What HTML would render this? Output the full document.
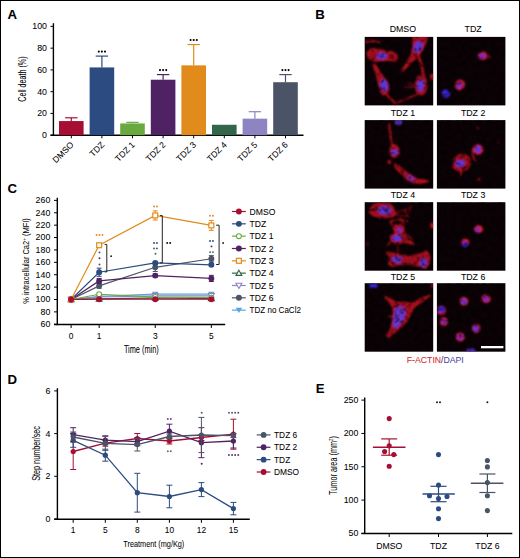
<!DOCTYPE html>
<html><head><meta charset="utf-8"><style>
html,body{margin:0;padding:0;background:#fff;}
svg{display:block;font-family:"Liberation Sans", sans-serif;}
</style></head><body>
<svg width="520" height="558" viewBox="0 0 520 558">
<defs>
<clipPath id="clipimg"><rect width="68.5" height="68.5"/></clipPath>
<filter id="soft" x="-10%" y="-10%" width="120%" height="120%"><feGaussianBlur stdDeviation="0.9"/></filter>
<filter id="tex00" x="0" y="0" width="100%" height="100%"><feTurbulence type="fractalNoise" baseFrequency="0.2" numOctaves="2" seed="1"/><feColorMatrix type="matrix" values="0 0 0 0 0  0 0 0 0 0  0 0 0 0 0  -2.6 0 0 0 1.45"/></filter><filter id="tex01" x="0" y="0" width="100%" height="100%"><feTurbulence type="fractalNoise" baseFrequency="0.2" numOctaves="2" seed="2"/><feColorMatrix type="matrix" values="0 0 0 0 0  0 0 0 0 0  0 0 0 0 0  -2.6 0 0 0 1.45"/></filter><filter id="tex10" x="0" y="0" width="100%" height="100%"><feTurbulence type="fractalNoise" baseFrequency="0.2" numOctaves="2" seed="3"/><feColorMatrix type="matrix" values="0 0 0 0 0  0 0 0 0 0  0 0 0 0 0  -2.6 0 0 0 1.45"/></filter><filter id="tex11" x="0" y="0" width="100%" height="100%"><feTurbulence type="fractalNoise" baseFrequency="0.2" numOctaves="2" seed="4"/><feColorMatrix type="matrix" values="0 0 0 0 0  0 0 0 0 0  0 0 0 0 0  -2.6 0 0 0 1.45"/></filter><filter id="tex20" x="0" y="0" width="100%" height="100%"><feTurbulence type="fractalNoise" baseFrequency="0.2" numOctaves="2" seed="5"/><feColorMatrix type="matrix" values="0 0 0 0 0  0 0 0 0 0  0 0 0 0 0  -2.6 0 0 0 1.45"/></filter><filter id="tex21" x="0" y="0" width="100%" height="100%"><feTurbulence type="fractalNoise" baseFrequency="0.2" numOctaves="2" seed="6"/><feColorMatrix type="matrix" values="0 0 0 0 0  0 0 0 0 0  0 0 0 0 0  -2.6 0 0 0 1.45"/></filter><filter id="tex30" x="0" y="0" width="100%" height="100%"><feTurbulence type="fractalNoise" baseFrequency="0.2" numOctaves="2" seed="7"/><feColorMatrix type="matrix" values="0 0 0 0 0  0 0 0 0 0  0 0 0 0 0  -2.6 0 0 0 1.45"/></filter><filter id="tex31" x="0" y="0" width="100%" height="100%"><feTurbulence type="fractalNoise" baseFrequency="0.2" numOctaves="2" seed="8"/><feColorMatrix type="matrix" values="0 0 0 0 0  0 0 0 0 0  0 0 0 0 0  -2.6 0 0 0 1.45"/></filter>
</defs>
<rect x="0.5" y="0.5" width="519" height="557" fill="#fff" stroke="#000" stroke-width="1"/>
<text x="7.60" y="18.90" font-size="13.2" text-anchor="start" fill="#000" stroke="#000" stroke-width="0.05" font-weight="bold" >A</text>
<line x1="53.40" y1="23.20" x2="53.40" y2="135.90" stroke="#000" stroke-width="1.4"/>
<line x1="50.50" y1="135.20" x2="53.50" y2="135.20" stroke="#000" stroke-width="1"/>
<text x="47.00" y="138.10" font-size="8.8" text-anchor="end" fill="#000" stroke="#000" stroke-width="0.05" >0</text>
<line x1="50.50" y1="113.44" x2="53.50" y2="113.44" stroke="#000" stroke-width="1"/>
<text x="47.00" y="116.34" font-size="8.8" text-anchor="end" fill="#000" stroke="#000" stroke-width="0.05" >20</text>
<line x1="50.50" y1="91.68" x2="53.50" y2="91.68" stroke="#000" stroke-width="1"/>
<text x="47.00" y="94.58" font-size="8.8" text-anchor="end" fill="#000" stroke="#000" stroke-width="0.05" >40</text>
<line x1="50.50" y1="69.92" x2="53.50" y2="69.92" stroke="#000" stroke-width="1"/>
<text x="47.00" y="72.82" font-size="8.8" text-anchor="end" fill="#000" stroke="#000" stroke-width="0.05" >60</text>
<line x1="50.50" y1="48.16" x2="53.50" y2="48.16" stroke="#000" stroke-width="1"/>
<text x="47.00" y="51.06" font-size="8.8" text-anchor="end" fill="#000" stroke="#000" stroke-width="0.05" >80</text>
<line x1="50.50" y1="26.40" x2="53.50" y2="26.40" stroke="#000" stroke-width="1"/>
<text x="47.00" y="29.30" font-size="8.8" text-anchor="end" fill="#000" stroke="#000" stroke-width="0.05" >100</text>
<text x="25.80" y="79.05" font-size="10.2" text-anchor="middle" fill="#000" stroke="#000" stroke-width="0.05" textLength="45.3" lengthAdjust="spacingAndGlyphs" transform="rotate(-90 25.80 79.05)" >Cell death (%)</text>
<line x1="50.50" y1="135.20" x2="303.50" y2="135.20" stroke="#000" stroke-width="1.5"/>
<line x1="71.30" y1="117.79" x2="71.30" y2="121.06" stroke="#a60f33" stroke-width="1.2"/>
<line x1="65.10" y1="117.79" x2="77.50" y2="117.79" stroke="#a60f33" stroke-width="1.2"/>
<rect x="59.00" y="121.06" width="24.6" height="14.14" fill="#a60f33"/>
<line x1="71.30" y1="135.30" x2="71.30" y2="138.30" stroke="#000" stroke-width="1"/>
<text x="74.30" y="145.30" font-size="8.6" text-anchor="end" fill="#000" stroke="#000" stroke-width="0.05" transform="rotate(-45 74.30 145.30)" >DMSO</text>
<line x1="101.90" y1="56.10" x2="101.90" y2="67.42" stroke="#2c4b80" stroke-width="1.2"/>
<line x1="95.70" y1="56.10" x2="108.10" y2="56.10" stroke="#2c4b80" stroke-width="1.2"/>
<rect x="89.60" y="67.42" width="24.6" height="67.78" fill="#2c4b80"/>
<line x1="101.90" y1="135.30" x2="101.90" y2="138.30" stroke="#000" stroke-width="1"/>
<text x="104.90" y="145.30" font-size="8.6" text-anchor="end" fill="#000" stroke="#000" stroke-width="0.05" transform="rotate(-45 104.90 145.30)" >TDZ</text>
<circle cx="98.80" cy="51.60" r="1.05" fill="#000"/>
<circle cx="101.90" cy="51.60" r="1.05" fill="#000"/>
<circle cx="105.00" cy="51.60" r="1.05" fill="#000"/>
<line x1="132.50" y1="122.36" x2="132.50" y2="123.45" stroke="#6aa940" stroke-width="1.2"/>
<line x1="126.30" y1="122.36" x2="138.70" y2="122.36" stroke="#6aa940" stroke-width="1.2"/>
<rect x="120.20" y="123.45" width="24.6" height="11.75" fill="#6aa940"/>
<line x1="132.50" y1="135.30" x2="132.50" y2="138.30" stroke="#000" stroke-width="1"/>
<text x="135.50" y="145.30" font-size="8.6" text-anchor="end" fill="#000" stroke="#000" stroke-width="0.05" transform="rotate(-45 135.50 145.30)" >TDZ 1</text>
<line x1="163.10" y1="74.60" x2="163.10" y2="79.71" stroke="#4f2363" stroke-width="1.2"/>
<line x1="156.90" y1="74.60" x2="169.30" y2="74.60" stroke="#4f2363" stroke-width="1.2"/>
<rect x="150.80" y="79.71" width="24.6" height="55.49" fill="#4f2363"/>
<line x1="163.10" y1="135.30" x2="163.10" y2="138.30" stroke="#000" stroke-width="1"/>
<text x="166.10" y="145.30" font-size="8.6" text-anchor="end" fill="#000" stroke="#000" stroke-width="0.05" transform="rotate(-45 166.10 145.30)" >TDZ 2</text>
<circle cx="160.00" cy="70.10" r="1.05" fill="#000"/>
<circle cx="163.10" cy="70.10" r="1.05" fill="#000"/>
<circle cx="166.20" cy="70.10" r="1.05" fill="#000"/>
<line x1="193.70" y1="44.57" x2="193.70" y2="65.35" stroke="#e08b1b" stroke-width="1.2"/>
<line x1="187.50" y1="44.57" x2="199.90" y2="44.57" stroke="#e08b1b" stroke-width="1.2"/>
<rect x="181.40" y="65.35" width="24.6" height="69.85" fill="#e08b1b"/>
<line x1="193.70" y1="135.30" x2="193.70" y2="138.30" stroke="#000" stroke-width="1"/>
<text x="196.70" y="145.30" font-size="8.6" text-anchor="end" fill="#000" stroke="#000" stroke-width="0.05" transform="rotate(-45 196.70 145.30)" >TDZ 3</text>
<circle cx="190.60" cy="40.07" r="1.05" fill="#000"/>
<circle cx="193.70" cy="40.07" r="1.05" fill="#000"/>
<circle cx="196.80" cy="40.07" r="1.05" fill="#000"/>
<rect x="212.00" y="124.76" width="24.6" height="10.44" fill="#32654a"/>
<line x1="224.30" y1="135.30" x2="224.30" y2="138.30" stroke="#000" stroke-width="1"/>
<text x="227.30" y="145.30" font-size="8.6" text-anchor="end" fill="#000" stroke="#000" stroke-width="0.05" transform="rotate(-45 227.30 145.30)" >TDZ 4</text>
<line x1="254.90" y1="111.70" x2="254.90" y2="118.66" stroke="#8d84c2" stroke-width="1.2"/>
<line x1="248.70" y1="111.70" x2="261.10" y2="111.70" stroke="#8d84c2" stroke-width="1.2"/>
<rect x="242.60" y="118.66" width="24.6" height="16.54" fill="#8d84c2"/>
<line x1="254.90" y1="135.30" x2="254.90" y2="138.30" stroke="#000" stroke-width="1"/>
<text x="257.90" y="145.30" font-size="8.6" text-anchor="end" fill="#000" stroke="#000" stroke-width="0.05" transform="rotate(-45 257.90 145.30)" >TDZ 5</text>
<line x1="285.50" y1="74.60" x2="285.50" y2="82.21" stroke="#4b5366" stroke-width="1.2"/>
<line x1="279.30" y1="74.60" x2="291.70" y2="74.60" stroke="#4b5366" stroke-width="1.2"/>
<rect x="273.20" y="82.21" width="24.6" height="52.99" fill="#4b5366"/>
<line x1="285.50" y1="135.30" x2="285.50" y2="138.30" stroke="#000" stroke-width="1"/>
<text x="288.50" y="145.30" font-size="8.6" text-anchor="end" fill="#000" stroke="#000" stroke-width="0.05" transform="rotate(-45 288.50 145.30)" >TDZ 6</text>
<circle cx="282.40" cy="70.10" r="1.05" fill="#000"/>
<circle cx="285.50" cy="70.10" r="1.05" fill="#000"/>
<circle cx="288.60" cy="70.10" r="1.05" fill="#000"/>
<text x="315.20" y="18.90" font-size="13.2" text-anchor="start" fill="#000" stroke="#000" stroke-width="0.05" font-weight="bold" >B</text>
<text x="402.90" y="32.20" font-size="8.8" text-anchor="middle" fill="#000" stroke="#000" stroke-width="0.05" >DMSO</text>
<text x="473.10" y="32.20" font-size="8.8" text-anchor="middle" fill="#000" stroke="#000" stroke-width="0.05" >TDZ</text>
<text x="402.90" y="116.20" font-size="8.8" text-anchor="middle" fill="#000" stroke="#000" stroke-width="0.05" >TDZ 1</text>
<text x="473.10" y="116.20" font-size="8.8" text-anchor="middle" fill="#000" stroke="#000" stroke-width="0.05" >TDZ 2</text>
<text x="402.90" y="197.90" font-size="8.8" text-anchor="middle" fill="#000" stroke="#000" stroke-width="0.05" >TDZ 4</text>
<text x="473.10" y="197.90" font-size="8.8" text-anchor="middle" fill="#000" stroke="#000" stroke-width="0.05" >TDZ 3</text>
<text x="402.90" y="279.90" font-size="8.8" text-anchor="middle" fill="#000" stroke="#000" stroke-width="0.05" >TDZ 5</text>
<text x="473.10" y="279.90" font-size="8.8" text-anchor="middle" fill="#000" stroke="#000" stroke-width="0.05" >TDZ 6</text>
<g transform="translate(364.70 36.90)"><rect width="68.5" height="68.5" fill="#0b0206"/><g clip-path="url(#clipimg)" filter="url(#soft)"><path d="M48.5 0 L62.5 0 L60.5 7 L57.5 13 L54 18.5 L49 23 L44 28 L39.5 32.5 L36.5 35 L39 30.5 L43.5 24 L47 17 L48 9 Z" fill="#9c0e1a" stroke="#d81a20" stroke-width="1.1" stroke-linejoin="round" opacity="1"/><path d="M53 17 L56 26 L58 33 L59 40" fill="none" stroke="#d0141c" stroke-width="2.2" stroke-linecap="round" stroke-linejoin="round" opacity="1"/><ellipse cx="53.4" cy="10" rx="4.2" ry="6" fill="#6036d0" transform="rotate(25 53.4 10)"/><path d="M3 14 L8 12 L15 13 L22 15 L27 15 L31 17 L33 21 L31 24 L25 23 L18 24 L10 24 L5 22 L3 18 Z" fill="#9c0e1a" stroke="#d81a20" stroke-width="1.1" stroke-linejoin="round" opacity="1"/><ellipse cx="17" cy="19.2" rx="5.3" ry="3.5" fill="#6036d0" transform="rotate(0 17 19.2)"/><path d="M0 5 L8 4 L15 5" fill="none" stroke="#d0141c" stroke-width="1.5" stroke-linecap="round" stroke-linejoin="round" opacity="1"/><path d="M8 27 L11 28 L15 35 L19 41 L23 46 L24 52 L22 57 L19 58 L16 55 L14 47 L12 38 Z" fill="#9c0e1a" stroke="#d81a20" stroke-width="1.1" stroke-linejoin="round" opacity="1"/><ellipse cx="19.3" cy="48.3" rx="4" ry="6" fill="#6036d0" transform="rotate(-12 19.3 48.3)"/><path d="M21 57 L26 62 L31 67" fill="none" stroke="#d0141c" stroke-width="1.6" stroke-linecap="round" stroke-linejoin="round" opacity="1"/><path d="M53 40 L58 38 L61 42 L62 50 L60 56 L56 58 L52 55 L51 47 Z" fill="#9c0e1a" stroke="#d81a20" stroke-width="1.1" stroke-linejoin="round" opacity="1"/><ellipse cx="55.8" cy="48.5" rx="3.6" ry="6" fill="#6036d0" transform="rotate(8 55.8 48.5)"/><path d="M32 66 L44 61 L55 56" fill="none" stroke="#d0141c" stroke-width="1.3" stroke-linecap="round" stroke-linejoin="round" opacity="1"/><path d="M40 50 L51 50" fill="none" stroke="#d0141c" stroke-width="0.9" stroke-linecap="round" stroke-linejoin="round" opacity="1"/><path d="M42 46 L51 48" fill="none" stroke="#d0141c" stroke-width="0.7" stroke-linecap="round" stroke-linejoin="round" opacity="1"/><ellipse cx="67.5" cy="40" rx="2.2" ry="3" fill="#d0141c" opacity="1" transform="rotate(0 67.5 40)"/></g><rect x="0.7" y="0.7" width="67.1" height="67.1" filter="url(#tex00)" opacity="0.55"/></g>
<g transform="translate(436.90 36.90)"><rect width="68.5" height="68.5" fill="#0b0206"/><g clip-path="url(#clipimg)" filter="url(#soft)"><ellipse cx="46" cy="18.9" rx="5.2" ry="3.9" fill="#e01820" opacity="1" transform="rotate(-10 46 18.9)"/><ellipse cx="45.5" cy="19" rx="3.6" ry="2.6" fill="#7c2ab8" transform="rotate(-10 45.5 19)"/><ellipse cx="52" cy="20" rx="2.5" ry="2" fill="#901018" opacity="0.6" transform="rotate(0 52 20)"/><ellipse cx="23" cy="48" rx="4.9" ry="5.3" fill="#e81a20" opacity="1" transform="rotate(20 23 48)"/><ellipse cx="22.6" cy="48.4" rx="3" ry="3.6" fill="#7c2ab8" transform="rotate(20 22.6 48.4)"/><ellipse cx="9" cy="56.6" rx="3.9" ry="4.3" fill="#3826d8" transform="rotate(-20 9 56.6)"/></g><rect x="0.7" y="0.7" width="67.1" height="67.1" filter="url(#tex01)" opacity="0.55"/></g>
<g transform="translate(364.70 120.10)"><rect width="68.5" height="68.5" fill="#0b0206"/><g clip-path="url(#clipimg)" filter="url(#soft)"><ellipse cx="33.7" cy="1.8" rx="3.6" ry="3" fill="#6036d0" transform="rotate(0 33.7 1.8)"/><path d="M24.5 4 L25.5 12 L26.5 20 L28.5 27" fill="none" stroke="#d0141c" stroke-width="1.8" stroke-linecap="round" stroke-linejoin="round" opacity="1"/><path d="M27 25 L31 25 L34 29 L34 34 L31 37 L27 36 L25 32 Z" fill="#9c0e1a" stroke="#d81a20" stroke-width="1.1" stroke-linejoin="round" opacity="1"/><ellipse cx="30" cy="32" rx="3.2" ry="3.2" fill="#6036d0" transform="rotate(0 30 32)"/><ellipse cx="24.5" cy="42" rx="1.6" ry="2.2" fill="#d0141c" opacity="1" transform="rotate(0 24.5 42)"/><path d="M30 44 L34 46 L40 51 L46 55 L52 59 L60 60 L64 61 L56 63 L48 62 L42 59 L36 53 L31 48 Z" fill="#9c0e1a" stroke="#d81a20" stroke-width="1.1" stroke-linejoin="round" opacity="1"/><ellipse cx="46" cy="57.8" rx="4.5" ry="1.9" fill="#7c2ab8" transform="rotate(33 46 57.8)"/></g><rect x="0.7" y="0.7" width="67.1" height="67.1" filter="url(#tex10)" opacity="0.55"/></g>
<g transform="translate(436.90 120.10)"><rect width="68.5" height="68.5" fill="#0b0206"/><g clip-path="url(#clipimg)" filter="url(#soft)"><ellipse cx="41" cy="29.5" rx="5.4" ry="5.3" fill="#d8161c" opacity="1" transform="rotate(0 41 29.5)"/><ellipse cx="41" cy="29.3" rx="3.4" ry="3.6" fill="#6036d0" transform="rotate(0 41 29.3)"/><path d="M35.5 30 L36 36 L38.5 41" fill="none" stroke="#d0141c" stroke-width="1.4" stroke-linecap="round" stroke-linejoin="round" opacity="1"/><path d="M17 38 L22 35 L29 35 L33 39 L33 45 L30 49 L26 51 L20 50 L16 47 L17 43 Z" fill="#9c0e1a" stroke="#d81a20" stroke-width="1.1" stroke-linejoin="round" opacity="1"/><ellipse cx="23.2" cy="43.4" rx="4.8" ry="3.4" fill="#6036d0" transform="rotate(0 23.2 43.4)"/><path d="M25 50 L24 55" fill="none" stroke="#d0141c" stroke-width="1.5" stroke-linecap="round" stroke-linejoin="round" opacity="1"/><ellipse cx="41" cy="7.8" rx="1.3" ry="1.3" fill="#901018" opacity="0.7" transform="rotate(0 41 7.8)"/><ellipse cx="42.1" cy="59.3" rx="1.6" ry="1.6" fill="#d0141c" opacity="0.8" transform="rotate(0 42.1 59.3)"/><ellipse cx="61.6" cy="22" rx="1.3" ry="1.3" fill="#901018" opacity="0.6" transform="rotate(0 61.6 22)"/></g><rect x="0.7" y="0.7" width="67.1" height="67.1" filter="url(#tex11)" opacity="0.55"/></g>
<g transform="translate(364.70 202.20)"><rect width="68.5" height="68.5" fill="#0b0206"/><g clip-path="url(#clipimg)" filter="url(#soft)"><path d="M6 6 L10 2 L18 1 L25 2 L29 6 L31 10 L29 14 L22 15 L14 15 L8 13 L5 10 Z" fill="#9c0e1a" stroke="#d81a20" stroke-width="1.1" stroke-linejoin="round" opacity="1"/><ellipse cx="19.8" cy="8.2" rx="6.6" ry="4.2" fill="#6036d0" transform="rotate(0 19.8 8.2)"/><path d="M29 11 L37 9 L43 6 L47 5 M30 12 L38 14 L44 15 M40 8 L43 14 M46 5 L45 10" fill="none" stroke="#d0141c" stroke-width="0.9" stroke-linecap="round" stroke-linejoin="round" opacity="1"/><path d="M25 19 L31 18 L37 17 L43 19 M36 18 L40 22 M26 19 L28 25" fill="none" stroke="#d0141c" stroke-width="1.2" stroke-linecap="round" stroke-linejoin="round" opacity="1"/><path d="M30 23 L35 22 L39 25 L39 30 L36 33 L31 32 L29 28 Z" fill="#9c0e1a" stroke="#d81a20" stroke-width="1.1" stroke-linejoin="round" opacity="1"/><path d="M26 33 L32 31 L38 32 L41 35 L44 38 L49 42 L41 40 L36 41 L30 41 L26 38 Z" fill="#9c0e1a" stroke="#d81a20" stroke-width="1.1" stroke-linejoin="round" opacity="1"/><path d="M38 30 L44 34 L48 38 M27 38 L23 43" fill="none" stroke="#d0141c" stroke-width="1.1" stroke-linecap="round" stroke-linejoin="round" opacity="1"/><ellipse cx="34.7" cy="27.6" rx="2.6" ry="2.6" fill="#7c2ab8" transform="rotate(0 34.7 27.6)"/><ellipse cx="32.3" cy="35.8" rx="5" ry="3.2" fill="#6036d0" transform="rotate(0 32.3 35.8)"/><path d="M22 50 L28 51 L36 53 L46 54 L55 52 L62 49 L65 54 L64 62 L61 66 L55 64 L46 62 L36 62 L28 64 L24 62 L26 56 Z" fill="#9c0e1a" stroke="#d81a20" stroke-width="1.1" stroke-linejoin="round" opacity="1"/><ellipse cx="32.3" cy="57.4" rx="5.2" ry="3.4" fill="#6036d0" transform="rotate(0 32.3 57.4)"/><ellipse cx="58.6" cy="60.5" rx="3.4" ry="4.2" fill="#6036d0" transform="rotate(0 58.6 60.5)"/><path d="M33 52 L33 42" fill="none" stroke="#d0141c" stroke-width="0.9" stroke-linecap="round" stroke-linejoin="round" opacity="1"/><ellipse cx="67.5" cy="23.5" rx="1.8" ry="3.2" fill="#d0141c" opacity="1" transform="rotate(0 67.5 23.5)"/><ellipse cx="3" cy="42" rx="1.5" ry="2" fill="#901018" opacity="0.6" transform="rotate(0 3 42)"/></g><rect x="0.7" y="0.7" width="67.1" height="67.1" filter="url(#tex20)" opacity="0.55"/></g>
<g transform="translate(436.90 202.20)"><rect width="68.5" height="68.5" fill="#0b0206"/><g clip-path="url(#clipimg)" filter="url(#soft)"><ellipse cx="41.7" cy="27" rx="4.5" ry="4" fill="#e01c22" opacity="1" transform="rotate(0 41.7 27)"/><ellipse cx="40.8" cy="27.6" rx="2.9" ry="2.5" fill="#7c2ab8" transform="rotate(0 40.8 27.6)"/><ellipse cx="28.5" cy="40.4" rx="3.9" ry="3.8" fill="#e81c22" opacity="1" transform="rotate(0 28.5 40.4)"/><ellipse cx="28.3" cy="42" rx="3.2" ry="2.6" fill="#3826d8" transform="rotate(0 28.3 42)"/></g><rect x="0.7" y="0.7" width="67.1" height="67.1" filter="url(#tex21)" opacity="0.55"/></g>
<g transform="translate(364.70 283.20)"><rect width="68.5" height="68.5" fill="#0b0206"/><g clip-path="url(#clipimg)" filter="url(#soft)"><ellipse cx="8.8" cy="2.6" rx="4.6" ry="2.2" fill="#3826d8" transform="rotate(0 8.8 2.6)"/><path d="M20 13.5 L26 16 L31 19 L39 19.5 L47 20 L55 16 L65.7 12 L57 18.5 L50 23.5 L46 30 L42 38 L36 44 L30 49 L24 54 L22 53 L26 46 L28 38 L29 30 L28 24 L24 18 Z" fill="#9c0e1a" stroke="#d81a20" stroke-width="1.1" stroke-linejoin="round" opacity="1"/><path d="M31 24 L38 23 L41 28 L40 35 L35 42 L30 46 L28 41 L29 32 Z" fill="#6a34cc"/><path d="M24 33 L29 33" fill="none" stroke="#d0141c" stroke-width="1.4" stroke-linecap="round" stroke-linejoin="round" opacity="1"/><ellipse cx="67.5" cy="2.5" rx="1.2" ry="2" fill="#d0141c" opacity="1" transform="rotate(0 67.5 2.5)"/></g><rect x="0.7" y="0.7" width="67.1" height="67.1" filter="url(#tex30)" opacity="0.55"/></g>
<g transform="translate(436.90 283.20)"><rect width="68.5" height="68.5" fill="#0b0206"/><g clip-path="url(#clipimg)" filter="url(#soft)"><ellipse cx="27" cy="18.2" rx="4.4" ry="4.4" fill="#e01a20" opacity="1" transform="rotate(0 27 18.2)"/><ellipse cx="27" cy="18.2" rx="3" ry="3" fill="#6036d0" transform="rotate(0 27 18.2)"/><ellipse cx="49.2" cy="15.7" rx="4.6" ry="4.4" fill="#d81a20" opacity="1" transform="rotate(0 49.2 15.7)"/><ellipse cx="49" cy="15.7" rx="3.1" ry="3" fill="#7c2ab8" transform="rotate(0 49 15.7)"/><ellipse cx="4.3" cy="27" rx="4.7" ry="4.5" fill="#d81a20" opacity="1" transform="rotate(0 4.3 27)"/><ellipse cx="4.3" cy="26.3" rx="3.8" ry="3.3" fill="#3826d8" transform="rotate(0 4.3 26.3)"/><ellipse cx="7" cy="38.4" rx="4.3" ry="4.3" fill="#e01a20" opacity="1" transform="rotate(0 7 38.4)"/><ellipse cx="7" cy="38.4" rx="2.8" ry="2.8" fill="#7c2ab8" transform="rotate(0 7 38.4)"/><ellipse cx="39.3" cy="45.3" rx="4.4" ry="4.4" fill="#e01a20" opacity="1" transform="rotate(0 39.3 45.3)"/><ellipse cx="38.9" cy="45.5" rx="3.1" ry="3.1" fill="#6036d0" transform="rotate(0 38.9 45.5)"/><ellipse cx="23.2" cy="53.8" rx="4.7" ry="4.5" fill="#d01820" opacity="1" transform="rotate(0 23.2 53.8)"/><ellipse cx="23.2" cy="53.8" rx="3" ry="3" fill="#7c2ab8" transform="rotate(0 23.2 53.8)"/><ellipse cx="33.9" cy="67.8" rx="4.6" ry="2.5" fill="#6036d0" transform="rotate(0 33.9 67.8)"/></g><rect x="0.7" y="0.7" width="67.1" height="67.1" filter="url(#tex31)" opacity="0.55"/></g>
<rect x="481" y="346" width="22.4" height="2.3" fill="#fff"/>
<text x="435.3" y="362.9" font-size="8.7" text-anchor="middle" stroke-width="0.05"><tspan fill="#d42a30" stroke="#d42a30">F-ACTIN</tspan><tspan fill="#3d3470" stroke="#3d3470">/</tspan><tspan fill="#4b3d9e" stroke="#4b3d9e">DAPI</tspan></text>
<text x="7.60" y="193.40" font-size="13.2" text-anchor="start" fill="#000" stroke="#000" stroke-width="0.05" font-weight="bold" >C</text>
<line x1="57.30" y1="197.80" x2="57.30" y2="325.30" stroke="#000" stroke-width="1.4"/>
<line x1="54.00" y1="324.28" x2="57.30" y2="324.28" stroke="#000" stroke-width="1"/>
<text x="50.30" y="327.18" font-size="8.8" text-anchor="end" fill="#000" stroke="#000" stroke-width="0.05" >60</text>
<line x1="54.00" y1="311.89" x2="57.30" y2="311.89" stroke="#000" stroke-width="1"/>
<text x="50.30" y="314.79" font-size="8.8" text-anchor="end" fill="#000" stroke="#000" stroke-width="0.05" >80</text>
<line x1="54.00" y1="299.50" x2="57.30" y2="299.50" stroke="#000" stroke-width="1"/>
<text x="50.30" y="302.40" font-size="8.8" text-anchor="end" fill="#000" stroke="#000" stroke-width="0.05" >100</text>
<line x1="54.00" y1="287.11" x2="57.30" y2="287.11" stroke="#000" stroke-width="1"/>
<text x="50.30" y="290.01" font-size="8.8" text-anchor="end" fill="#000" stroke="#000" stroke-width="0.05" >120</text>
<line x1="54.00" y1="274.72" x2="57.30" y2="274.72" stroke="#000" stroke-width="1"/>
<text x="50.30" y="277.62" font-size="8.8" text-anchor="end" fill="#000" stroke="#000" stroke-width="0.05" >140</text>
<line x1="54.00" y1="262.33" x2="57.30" y2="262.33" stroke="#000" stroke-width="1"/>
<text x="50.30" y="265.23" font-size="8.8" text-anchor="end" fill="#000" stroke="#000" stroke-width="0.05" >160</text>
<line x1="54.00" y1="249.94" x2="57.30" y2="249.94" stroke="#000" stroke-width="1"/>
<text x="50.30" y="252.84" font-size="8.8" text-anchor="end" fill="#000" stroke="#000" stroke-width="0.05" >180</text>
<line x1="54.00" y1="237.55" x2="57.30" y2="237.55" stroke="#000" stroke-width="1"/>
<text x="50.30" y="240.45" font-size="8.8" text-anchor="end" fill="#000" stroke="#000" stroke-width="0.05" >200</text>
<line x1="54.00" y1="225.16" x2="57.30" y2="225.16" stroke="#000" stroke-width="1"/>
<text x="50.30" y="228.06" font-size="8.8" text-anchor="end" fill="#000" stroke="#000" stroke-width="0.05" >220</text>
<line x1="54.00" y1="212.77" x2="57.30" y2="212.77" stroke="#000" stroke-width="1"/>
<text x="50.30" y="215.67" font-size="8.8" text-anchor="end" fill="#000" stroke="#000" stroke-width="0.05" >240</text>
<line x1="54.00" y1="200.38" x2="57.30" y2="200.38" stroke="#000" stroke-width="1"/>
<text x="50.30" y="203.28" font-size="8.8" text-anchor="end" fill="#000" stroke="#000" stroke-width="0.05" >260</text>
<text x="28.9" y="260.9" font-size="9.8" text-anchor="middle" transform="rotate(-90 28.9 260.9)" textLength="85.5" lengthAdjust="spacingAndGlyphs">% intracellular Ca2<tspan font-size="6" dy="-3.4">+</tspan><tspan dy="3.4"> (MFI)</tspan></text>
<line x1="54.00" y1="324.60" x2="225.20" y2="324.60" stroke="#000" stroke-width="1.5"/>
<line x1="71.10" y1="324.60" x2="71.10" y2="328.00" stroke="#000" stroke-width="1"/>
<text x="71.10" y="338.60" font-size="8.4" text-anchor="middle" fill="#000" stroke="#000" stroke-width="0.05" >0</text>
<line x1="99.15" y1="324.60" x2="99.15" y2="328.00" stroke="#000" stroke-width="1"/>
<text x="99.15" y="338.60" font-size="8.4" text-anchor="middle" fill="#000" stroke="#000" stroke-width="0.05" >1</text>
<line x1="155.25" y1="324.60" x2="155.25" y2="328.00" stroke="#000" stroke-width="1"/>
<text x="155.25" y="338.60" font-size="8.4" text-anchor="middle" fill="#000" stroke="#000" stroke-width="0.05" >3</text>
<line x1="211.35" y1="324.60" x2="211.35" y2="328.00" stroke="#000" stroke-width="1"/>
<text x="211.35" y="338.60" font-size="8.4" text-anchor="middle" fill="#000" stroke="#000" stroke-width="0.05" >5</text>
<text x="141.30" y="352.50" font-size="10.0" text-anchor="middle" fill="#000" stroke="#000" stroke-width="0.05" textLength="34.8" lengthAdjust="spacingAndGlyphs" >Time (min)</text>
<polyline points="71.10,299.50 99.15,296.40 155.25,294.05 211.35,294.05" fill="none" stroke="#5aa5e0" stroke-width="1.2"/>
<polyline points="71.10,299.50 99.15,297.02 155.25,295.78 211.35,295.78" fill="none" stroke="#8d84c2" stroke-width="1.2"/>
<polyline points="71.10,299.50 99.15,298.88 155.25,297.95 211.35,298.57" fill="none" stroke="#32654a" stroke-width="1.2"/>
<polyline points="71.10,299.50 99.15,294.23 155.25,297.02 211.35,297.64" fill="none" stroke="#6aa940" stroke-width="1.2"/>
<polyline points="71.10,299.50 99.15,285.87 155.25,267.29 211.35,258.74" fill="none" stroke="#4b5366" stroke-width="1.2"/>
<polyline points="71.10,299.50 99.15,280.92 155.25,275.59 211.35,278.44" fill="none" stroke="#4f2363" stroke-width="1.2"/>
<polyline points="71.10,299.50 99.15,272.24 155.25,262.95 211.35,264.81" fill="none" stroke="#2c4b80" stroke-width="1.2"/>
<polyline points="71.10,299.50 99.15,245.23 155.25,215.43 211.35,225.41" fill="none" stroke="#e08b1b" stroke-width="1.2"/>
<polyline points="71.10,299.50 99.15,299.19 155.25,299.19 211.35,299.19" fill="none" stroke="#a60f33" stroke-width="1.2"/>
<path d="M71.10 302.45 L74.35 297.14 L67.85 297.14Z" fill="#5aa5e0"/>
<path d="M99.15 299.35 L102.40 294.04 L95.90 294.04Z" fill="#5aa5e0"/>
<line x1="155.25" y1="293.12" x2="155.25" y2="294.98" stroke="#5aa5e0" stroke-width="1"/>
<line x1="152.75" y1="293.12" x2="157.75" y2="293.12" stroke="#5aa5e0" stroke-width="1"/>
<line x1="152.75" y1="294.98" x2="157.75" y2="294.98" stroke="#5aa5e0" stroke-width="1"/>
<path d="M155.25 297.00 L158.50 291.69 L152.00 291.69Z" fill="#5aa5e0"/>
<line x1="211.35" y1="293.12" x2="211.35" y2="294.98" stroke="#5aa5e0" stroke-width="1"/>
<line x1="208.85" y1="293.12" x2="213.85" y2="293.12" stroke="#5aa5e0" stroke-width="1"/>
<line x1="208.85" y1="294.98" x2="213.85" y2="294.98" stroke="#5aa5e0" stroke-width="1"/>
<path d="M211.35 297.00 L214.60 291.69 L208.10 291.69Z" fill="#5aa5e0"/>
<path d="M71.10 302.45 L74.05 297.29 L68.15 297.29Z" fill="#fff" stroke="#8d84c2" stroke-width="1.1"/>
<path d="M99.15 299.97 L102.10 294.81 L96.20 294.81Z" fill="#fff" stroke="#8d84c2" stroke-width="1.1"/>
<path d="M155.25 298.73 L158.20 293.57 L152.30 293.57Z" fill="#fff" stroke="#8d84c2" stroke-width="1.1"/>
<path d="M211.35 298.73 L214.30 293.57 L208.40 293.57Z" fill="#fff" stroke="#8d84c2" stroke-width="1.1"/>
<path d="M71.10 296.55 L74.05 301.71 L68.15 301.71Z" fill="#fff" stroke="#32654a" stroke-width="1.1"/>
<path d="M99.15 295.93 L102.10 301.09 L96.20 301.09Z" fill="#fff" stroke="#32654a" stroke-width="1.1"/>
<path d="M155.25 295.00 L158.20 300.16 L152.30 300.16Z" fill="#fff" stroke="#32654a" stroke-width="1.1"/>
<path d="M211.35 295.62 L214.30 300.78 L208.40 300.78Z" fill="#fff" stroke="#32654a" stroke-width="1.1"/>
<circle cx="71.10" cy="299.50" r="2.45" fill="#fff" stroke="#6aa940" stroke-width="1.1"/>
<circle cx="99.15" cy="294.23" r="2.45" fill="#fff" stroke="#6aa940" stroke-width="1.1"/>
<circle cx="155.25" cy="297.02" r="2.45" fill="#fff" stroke="#6aa940" stroke-width="1.1"/>
<circle cx="211.35" cy="297.64" r="2.45" fill="#fff" stroke="#6aa940" stroke-width="1.1"/>
<circle cx="71.10" cy="299.50" r="2.95" fill="#4b5366"/>
<line x1="99.15" y1="283.39" x2="99.15" y2="288.35" stroke="#4b5366" stroke-width="1"/>
<line x1="96.65" y1="283.39" x2="101.65" y2="283.39" stroke="#4b5366" stroke-width="1"/>
<line x1="96.65" y1="288.35" x2="101.65" y2="288.35" stroke="#4b5366" stroke-width="1"/>
<circle cx="99.15" cy="285.87" r="2.95" fill="#4b5366"/>
<line x1="155.25" y1="263.07" x2="155.25" y2="271.50" stroke="#4b5366" stroke-width="1"/>
<line x1="152.75" y1="263.07" x2="157.75" y2="263.07" stroke="#4b5366" stroke-width="1"/>
<line x1="152.75" y1="271.50" x2="157.75" y2="271.50" stroke="#4b5366" stroke-width="1"/>
<circle cx="155.25" cy="267.29" r="2.95" fill="#4b5366"/>
<line x1="211.35" y1="255.64" x2="211.35" y2="261.83" stroke="#4b5366" stroke-width="1"/>
<line x1="208.85" y1="255.64" x2="213.85" y2="255.64" stroke="#4b5366" stroke-width="1"/>
<line x1="208.85" y1="261.83" x2="213.85" y2="261.83" stroke="#4b5366" stroke-width="1"/>
<circle cx="211.35" cy="258.74" r="2.95" fill="#4b5366"/>
<circle cx="71.10" cy="299.50" r="2.95" fill="#4f2363"/>
<line x1="99.15" y1="278.44" x2="99.15" y2="283.39" stroke="#4f2363" stroke-width="1"/>
<line x1="96.65" y1="278.44" x2="101.65" y2="278.44" stroke="#4f2363" stroke-width="1"/>
<line x1="96.65" y1="283.39" x2="101.65" y2="283.39" stroke="#4f2363" stroke-width="1"/>
<circle cx="99.15" cy="280.92" r="2.95" fill="#4f2363"/>
<line x1="155.25" y1="274.04" x2="155.25" y2="277.14" stroke="#4f2363" stroke-width="1"/>
<line x1="152.75" y1="274.04" x2="157.75" y2="274.04" stroke="#4f2363" stroke-width="1"/>
<line x1="152.75" y1="277.14" x2="157.75" y2="277.14" stroke="#4f2363" stroke-width="1"/>
<circle cx="155.25" cy="275.59" r="2.95" fill="#4f2363"/>
<line x1="211.35" y1="275.34" x2="211.35" y2="281.53" stroke="#4f2363" stroke-width="1"/>
<line x1="208.85" y1="275.34" x2="213.85" y2="275.34" stroke="#4f2363" stroke-width="1"/>
<line x1="208.85" y1="281.53" x2="213.85" y2="281.53" stroke="#4f2363" stroke-width="1"/>
<circle cx="211.35" cy="278.44" r="2.95" fill="#4f2363"/>
<circle cx="71.10" cy="299.50" r="2.95" fill="#2c4b80"/>
<line x1="99.15" y1="268.15" x2="99.15" y2="276.33" stroke="#2c4b80" stroke-width="1"/>
<line x1="96.65" y1="268.15" x2="101.65" y2="268.15" stroke="#2c4b80" stroke-width="1"/>
<line x1="96.65" y1="276.33" x2="101.65" y2="276.33" stroke="#2c4b80" stroke-width="1"/>
<circle cx="99.15" cy="272.24" r="2.95" fill="#2c4b80"/>
<line x1="155.25" y1="261.71" x2="155.25" y2="264.19" stroke="#2c4b80" stroke-width="1"/>
<line x1="152.75" y1="261.71" x2="157.75" y2="261.71" stroke="#2c4b80" stroke-width="1"/>
<line x1="152.75" y1="264.19" x2="157.75" y2="264.19" stroke="#2c4b80" stroke-width="1"/>
<circle cx="155.25" cy="262.95" r="2.95" fill="#2c4b80"/>
<line x1="211.35" y1="263.57" x2="211.35" y2="266.05" stroke="#2c4b80" stroke-width="1"/>
<line x1="208.85" y1="263.57" x2="213.85" y2="263.57" stroke="#2c4b80" stroke-width="1"/>
<line x1="208.85" y1="266.05" x2="213.85" y2="266.05" stroke="#2c4b80" stroke-width="1"/>
<circle cx="211.35" cy="264.81" r="2.95" fill="#2c4b80"/>
<rect x="68.65" y="297.05" width="4.90" height="4.90" fill="#fff" stroke="#e08b1b" stroke-width="1.2"/>
<line x1="99.15" y1="243.37" x2="99.15" y2="247.09" stroke="#e08b1b" stroke-width="1"/>
<line x1="96.65" y1="243.37" x2="101.65" y2="243.37" stroke="#e08b1b" stroke-width="1"/>
<line x1="96.65" y1="247.09" x2="101.65" y2="247.09" stroke="#e08b1b" stroke-width="1"/>
<rect x="96.70" y="242.78" width="4.90" height="4.90" fill="#fff" stroke="#e08b1b" stroke-width="1.2"/>
<line x1="155.25" y1="210.85" x2="155.25" y2="220.02" stroke="#e08b1b" stroke-width="1"/>
<line x1="152.75" y1="210.85" x2="157.75" y2="210.85" stroke="#e08b1b" stroke-width="1"/>
<line x1="152.75" y1="220.02" x2="157.75" y2="220.02" stroke="#e08b1b" stroke-width="1"/>
<rect x="152.80" y="212.98" width="4.90" height="4.90" fill="#fff" stroke="#e08b1b" stroke-width="1.2"/>
<line x1="211.35" y1="220.45" x2="211.35" y2="230.36" stroke="#e08b1b" stroke-width="1"/>
<line x1="208.85" y1="220.45" x2="213.85" y2="220.45" stroke="#e08b1b" stroke-width="1"/>
<line x1="208.85" y1="230.36" x2="213.85" y2="230.36" stroke="#e08b1b" stroke-width="1"/>
<rect x="208.90" y="222.96" width="4.90" height="4.90" fill="#fff" stroke="#e08b1b" stroke-width="1.2"/>
<circle cx="71.10" cy="299.50" r="2.95" fill="#a60f33"/>
<line x1="99.15" y1="298.57" x2="99.15" y2="299.81" stroke="#a60f33" stroke-width="1"/>
<line x1="96.65" y1="298.57" x2="101.65" y2="298.57" stroke="#a60f33" stroke-width="1"/>
<line x1="96.65" y1="299.81" x2="101.65" y2="299.81" stroke="#a60f33" stroke-width="1"/>
<circle cx="99.15" cy="299.19" r="2.95" fill="#a60f33"/>
<line x1="155.25" y1="298.57" x2="155.25" y2="299.81" stroke="#a60f33" stroke-width="1"/>
<line x1="152.75" y1="298.57" x2="157.75" y2="298.57" stroke="#a60f33" stroke-width="1"/>
<line x1="152.75" y1="299.81" x2="157.75" y2="299.81" stroke="#a60f33" stroke-width="1"/>
<circle cx="155.25" cy="299.19" r="2.95" fill="#a60f33"/>
<line x1="211.35" y1="298.57" x2="211.35" y2="299.81" stroke="#a60f33" stroke-width="1"/>
<line x1="208.85" y1="298.57" x2="213.85" y2="298.57" stroke="#a60f33" stroke-width="1"/>
<line x1="208.85" y1="299.81" x2="213.85" y2="299.81" stroke="#a60f33" stroke-width="1"/>
<circle cx="211.35" cy="299.19" r="2.95" fill="#a60f33"/>
<circle cx="96.60" cy="235.00" r="0.95" fill="#e08b1b"/>
<circle cx="99.50" cy="235.00" r="0.95" fill="#e08b1b"/>
<circle cx="102.40" cy="235.00" r="0.95" fill="#e08b1b"/>
<circle cx="99.50" cy="252.40" r="0.95" fill="#2c4b80"/>
<circle cx="99.50" cy="258.30" r="0.95" fill="#4f2363"/>
<circle cx="99.50" cy="264.50" r="0.95" fill="#4b5366"/>
<circle cx="154.05" cy="206.50" r="0.95" fill="#e08b1b"/>
<circle cx="156.95" cy="206.50" r="0.95" fill="#e08b1b"/>
<circle cx="154.05" cy="243.00" r="0.95" fill="#2c4b80"/>
<circle cx="156.95" cy="243.00" r="0.95" fill="#2c4b80"/>
<circle cx="154.05" cy="248.40" r="0.95" fill="#4b5366"/>
<circle cx="156.95" cy="248.40" r="0.95" fill="#4b5366"/>
<circle cx="155.50" cy="253.80" r="0.95" fill="#4b5366"/>
<circle cx="210.05" cy="215.70" r="0.95" fill="#e08b1b"/>
<circle cx="212.95" cy="215.70" r="0.95" fill="#e08b1b"/>
<circle cx="210.05" cy="241.00" r="0.95" fill="#2c4b80"/>
<circle cx="212.95" cy="241.00" r="0.95" fill="#2c4b80"/>
<circle cx="211.50" cy="246.40" r="0.95" fill="#4f2363"/>
<circle cx="210.05" cy="252.10" r="0.95" fill="#4b5366"/>
<circle cx="212.95" cy="252.10" r="0.95" fill="#4b5366"/>
<path d="M104.60 244.40 H106.80 V271.90 H104.60" fill="none" stroke="#222" stroke-width="1"/>
<circle cx="111.10" cy="256.20" r="0.9" fill="#111"/>
<path d="M160.00 215.60 H162.30 V262.90 H160.00" fill="none" stroke="#222" stroke-width="1"/>
<circle cx="167.20" cy="243.00" r="1.0" fill="#111"/>
<circle cx="170.20" cy="243.00" r="1.0" fill="#111"/>
<path d="M216.10 225.20 H219.10 V264.50 H216.10" fill="none" stroke="#222" stroke-width="1"/>
<circle cx="223.10" cy="243.00" r="0.9" fill="#111"/>
<line x1="231.90" y1="211.50" x2="245.80" y2="211.50" stroke="#a60f33" stroke-width="1.2"/>
<circle cx="238.90" cy="211.50" r="2.95" fill="#a60f33"/>
<text x="249.60" y="214.60" font-size="8.6" text-anchor="start" fill="#000" stroke="#000" stroke-width="0.05" >DMSO</text>
<line x1="231.90" y1="223.83" x2="245.80" y2="223.83" stroke="#2c4b80" stroke-width="1.2"/>
<circle cx="238.90" cy="223.83" r="2.95" fill="#2c4b80"/>
<text x="249.60" y="226.93" font-size="8.6" text-anchor="start" fill="#000" stroke="#000" stroke-width="0.05" >TDZ</text>
<line x1="231.90" y1="236.16" x2="245.80" y2="236.16" stroke="#6aa940" stroke-width="1.2"/>
<circle cx="238.90" cy="236.16" r="2.45" fill="#fff" stroke="#6aa940" stroke-width="1.1"/>
<text x="249.60" y="239.26" font-size="8.6" text-anchor="start" fill="#000" stroke="#000" stroke-width="0.05" >TDZ 1</text>
<line x1="231.90" y1="248.49" x2="245.80" y2="248.49" stroke="#4f2363" stroke-width="1.2"/>
<circle cx="238.90" cy="248.49" r="2.95" fill="#4f2363"/>
<text x="249.60" y="251.59" font-size="8.6" text-anchor="start" fill="#000" stroke="#000" stroke-width="0.05" >TDZ 2</text>
<line x1="231.90" y1="260.82" x2="245.80" y2="260.82" stroke="#e08b1b" stroke-width="1.2"/>
<rect x="236.45" y="258.37" width="4.90" height="4.90" fill="#fff" stroke="#e08b1b" stroke-width="1.2"/>
<text x="249.60" y="263.92" font-size="8.6" text-anchor="start" fill="#000" stroke="#000" stroke-width="0.05" >TDZ 3</text>
<line x1="231.90" y1="273.15" x2="245.80" y2="273.15" stroke="#32654a" stroke-width="1.2"/>
<path d="M238.90 270.20 L241.85 275.36 L235.95 275.36Z" fill="#fff" stroke="#32654a" stroke-width="1.1"/>
<text x="249.60" y="276.25" font-size="8.6" text-anchor="start" fill="#000" stroke="#000" stroke-width="0.05" >TDZ 4</text>
<line x1="231.90" y1="285.48" x2="245.80" y2="285.48" stroke="#8d84c2" stroke-width="1.2"/>
<path d="M238.90 288.43 L241.85 283.27 L235.95 283.27Z" fill="#fff" stroke="#8d84c2" stroke-width="1.1"/>
<text x="249.60" y="288.58" font-size="8.6" text-anchor="start" fill="#000" stroke="#000" stroke-width="0.05" >TDZ 5</text>
<line x1="231.90" y1="297.81" x2="245.80" y2="297.81" stroke="#4b5366" stroke-width="1.2"/>
<circle cx="238.90" cy="297.81" r="2.95" fill="#4b5366"/>
<text x="249.60" y="300.91" font-size="8.6" text-anchor="start" fill="#000" stroke="#000" stroke-width="0.05" >TDZ 6</text>
<line x1="231.90" y1="310.14" x2="245.80" y2="310.14" stroke="#5aa5e0" stroke-width="1.2"/>
<path d="M238.90 313.09 L242.15 307.78 L235.65 307.78Z" fill="#5aa5e0"/>
<text x="249.60" y="313.24" font-size="8.6" text-anchor="start" fill="#000" stroke="#000" stroke-width="0.05" textLength="51.3" lengthAdjust="spacingAndGlyphs" >TDZ no CaCl2</text>
<text x="7.60" y="383.60" font-size="13.2" text-anchor="start" fill="#000" stroke="#000" stroke-width="0.05" font-weight="bold" >D</text>
<line x1="57.40" y1="388.20" x2="57.40" y2="519.90" stroke="#000" stroke-width="1.4"/>
<line x1="54.20" y1="519.00" x2="57.40" y2="519.00" stroke="#000" stroke-width="1"/>
<text x="50.50" y="521.90" font-size="8.8" text-anchor="end" fill="#000" stroke="#000" stroke-width="0.05" >0</text>
<line x1="54.20" y1="476.30" x2="57.40" y2="476.30" stroke="#000" stroke-width="1"/>
<text x="50.50" y="479.20" font-size="8.8" text-anchor="end" fill="#000" stroke="#000" stroke-width="0.05" >2</text>
<line x1="54.20" y1="433.60" x2="57.40" y2="433.60" stroke="#000" stroke-width="1"/>
<text x="50.50" y="436.50" font-size="8.8" text-anchor="end" fill="#000" stroke="#000" stroke-width="0.05" >4</text>
<line x1="54.20" y1="390.90" x2="57.40" y2="390.90" stroke="#000" stroke-width="1"/>
<text x="50.50" y="393.80" font-size="8.8" text-anchor="end" fill="#000" stroke="#000" stroke-width="0.05" >6</text>
<text x="39.70" y="453.40" font-size="10.2" text-anchor="middle" fill="#000" stroke="#000" stroke-width="0.05" textLength="54.8" lengthAdjust="spacingAndGlyphs" transform="rotate(-90 39.70 453.40)" >Step number/sec</text>
<line x1="54.20" y1="519.20" x2="249.80" y2="519.20" stroke="#000" stroke-width="1.5"/>
<line x1="73.20" y1="519.00" x2="73.20" y2="522.80" stroke="#000" stroke-width="1"/>
<text x="73.20" y="533.20" font-size="8.4" text-anchor="middle" fill="#000" stroke="#000" stroke-width="0.05" >1</text>
<line x1="105.30" y1="519.00" x2="105.30" y2="522.80" stroke="#000" stroke-width="1"/>
<text x="105.30" y="533.20" font-size="8.4" text-anchor="middle" fill="#000" stroke="#000" stroke-width="0.05" >5</text>
<line x1="137.30" y1="519.00" x2="137.30" y2="522.80" stroke="#000" stroke-width="1"/>
<text x="137.30" y="533.20" font-size="8.4" text-anchor="middle" fill="#000" stroke="#000" stroke-width="0.05" >8</text>
<line x1="169.40" y1="519.00" x2="169.40" y2="522.80" stroke="#000" stroke-width="1"/>
<text x="169.40" y="533.20" font-size="8.4" text-anchor="middle" fill="#000" stroke="#000" stroke-width="0.05" >10</text>
<line x1="201.40" y1="519.00" x2="201.40" y2="522.80" stroke="#000" stroke-width="1"/>
<text x="201.40" y="533.20" font-size="8.4" text-anchor="middle" fill="#000" stroke="#000" stroke-width="0.05" >12</text>
<line x1="233.40" y1="519.00" x2="233.40" y2="522.80" stroke="#000" stroke-width="1"/>
<text x="233.40" y="533.20" font-size="8.4" text-anchor="middle" fill="#000" stroke="#000" stroke-width="0.05" >15</text>
<text x="153.80" y="547.20" font-size="9.8" text-anchor="middle" fill="#000" stroke="#000" stroke-width="0.05" textLength="61" lengthAdjust="spacingAndGlyphs" >Treatment (mg/Kg)</text>
<polyline points="73.20,451.50 105.30,443.20 137.30,438.50 169.40,441.00 201.40,437.50 233.40,434.20" fill="none" stroke="#a60f33" stroke-width="1.3"/>
<line x1="73.20" y1="433.50" x2="73.20" y2="469.50" stroke="#a60f33" stroke-width="1"/>
<line x1="70.20" y1="433.50" x2="76.20" y2="433.50" stroke="#a60f33" stroke-width="1"/>
<line x1="70.20" y1="469.50" x2="76.20" y2="469.50" stroke="#a60f33" stroke-width="1"/>
<circle cx="73.20" cy="451.50" r="2.6" fill="#a60f33"/>
<line x1="105.30" y1="440.20" x2="105.30" y2="446.20" stroke="#a60f33" stroke-width="1"/>
<line x1="102.30" y1="440.20" x2="108.30" y2="440.20" stroke="#a60f33" stroke-width="1"/>
<line x1="102.30" y1="446.20" x2="108.30" y2="446.20" stroke="#a60f33" stroke-width="1"/>
<circle cx="105.30" cy="443.20" r="2.6" fill="#a60f33"/>
<line x1="137.30" y1="433.50" x2="137.30" y2="443.50" stroke="#a60f33" stroke-width="1"/>
<line x1="134.30" y1="433.50" x2="140.30" y2="433.50" stroke="#a60f33" stroke-width="1"/>
<line x1="134.30" y1="443.50" x2="140.30" y2="443.50" stroke="#a60f33" stroke-width="1"/>
<circle cx="137.30" cy="438.50" r="2.6" fill="#a60f33"/>
<line x1="169.40" y1="438.00" x2="169.40" y2="444.00" stroke="#a60f33" stroke-width="1"/>
<line x1="166.40" y1="438.00" x2="172.40" y2="438.00" stroke="#a60f33" stroke-width="1"/>
<line x1="166.40" y1="444.00" x2="172.40" y2="444.00" stroke="#a60f33" stroke-width="1"/>
<circle cx="169.40" cy="441.00" r="2.6" fill="#a60f33"/>
<line x1="201.40" y1="434.50" x2="201.40" y2="440.50" stroke="#a60f33" stroke-width="1"/>
<line x1="198.40" y1="434.50" x2="204.40" y2="434.50" stroke="#a60f33" stroke-width="1"/>
<line x1="198.40" y1="440.50" x2="204.40" y2="440.50" stroke="#a60f33" stroke-width="1"/>
<circle cx="201.40" cy="437.50" r="2.6" fill="#a60f33"/>
<line x1="233.40" y1="419.20" x2="233.40" y2="449.20" stroke="#a60f33" stroke-width="1"/>
<line x1="230.40" y1="419.20" x2="236.40" y2="419.20" stroke="#a60f33" stroke-width="1"/>
<line x1="230.40" y1="449.20" x2="236.40" y2="449.20" stroke="#a60f33" stroke-width="1"/>
<circle cx="233.40" cy="434.20" r="2.6" fill="#a60f33"/>
<polyline points="73.20,440.30 105.30,455.20 137.30,492.70 169.40,496.50 201.40,489.60 233.40,508.60" fill="none" stroke="#2c4b80" stroke-width="1.3"/>
<line x1="73.20" y1="433.30" x2="73.20" y2="447.30" stroke="#2c4b80" stroke-width="1"/>
<line x1="70.20" y1="433.30" x2="76.20" y2="433.30" stroke="#2c4b80" stroke-width="1"/>
<line x1="70.20" y1="447.30" x2="76.20" y2="447.30" stroke="#2c4b80" stroke-width="1"/>
<circle cx="73.20" cy="440.30" r="2.6" fill="#2c4b80"/>
<line x1="105.30" y1="449.20" x2="105.30" y2="461.20" stroke="#2c4b80" stroke-width="1"/>
<line x1="102.30" y1="449.20" x2="108.30" y2="449.20" stroke="#2c4b80" stroke-width="1"/>
<line x1="102.30" y1="461.20" x2="108.30" y2="461.20" stroke="#2c4b80" stroke-width="1"/>
<circle cx="105.30" cy="455.20" r="2.6" fill="#2c4b80"/>
<line x1="137.30" y1="473.30" x2="137.30" y2="512.10" stroke="#2c4b80" stroke-width="1"/>
<line x1="134.30" y1="473.30" x2="140.30" y2="473.30" stroke="#2c4b80" stroke-width="1"/>
<line x1="134.30" y1="512.10" x2="140.30" y2="512.10" stroke="#2c4b80" stroke-width="1"/>
<circle cx="137.30" cy="492.70" r="2.6" fill="#2c4b80"/>
<line x1="169.40" y1="485.20" x2="169.40" y2="507.80" stroke="#2c4b80" stroke-width="1"/>
<line x1="166.40" y1="485.20" x2="172.40" y2="485.20" stroke="#2c4b80" stroke-width="1"/>
<line x1="166.40" y1="507.80" x2="172.40" y2="507.80" stroke="#2c4b80" stroke-width="1"/>
<circle cx="169.40" cy="496.50" r="2.6" fill="#2c4b80"/>
<line x1="201.40" y1="482.60" x2="201.40" y2="496.60" stroke="#2c4b80" stroke-width="1"/>
<line x1="198.40" y1="482.60" x2="204.40" y2="482.60" stroke="#2c4b80" stroke-width="1"/>
<line x1="198.40" y1="496.60" x2="204.40" y2="496.60" stroke="#2c4b80" stroke-width="1"/>
<circle cx="201.40" cy="489.60" r="2.6" fill="#2c4b80"/>
<line x1="233.40" y1="502.40" x2="233.40" y2="514.80" stroke="#2c4b80" stroke-width="1"/>
<line x1="230.40" y1="502.40" x2="236.40" y2="502.40" stroke="#2c4b80" stroke-width="1"/>
<line x1="230.40" y1="514.80" x2="236.40" y2="514.80" stroke="#2c4b80" stroke-width="1"/>
<circle cx="233.40" cy="508.60" r="2.6" fill="#2c4b80"/>
<polyline points="73.20,434.70 105.30,440.20 137.30,441.70 169.40,431.20 201.40,442.70 233.40,441.00" fill="none" stroke="#4f2363" stroke-width="1.3"/>
<line x1="73.20" y1="427.70" x2="73.20" y2="441.70" stroke="#4f2363" stroke-width="1"/>
<line x1="70.20" y1="427.70" x2="76.20" y2="427.70" stroke="#4f2363" stroke-width="1"/>
<line x1="70.20" y1="441.70" x2="76.20" y2="441.70" stroke="#4f2363" stroke-width="1"/>
<circle cx="73.20" cy="434.70" r="2.6" fill="#4f2363"/>
<line x1="105.30" y1="435.80" x2="105.30" y2="444.60" stroke="#4f2363" stroke-width="1"/>
<line x1="102.30" y1="435.80" x2="108.30" y2="435.80" stroke="#4f2363" stroke-width="1"/>
<line x1="102.30" y1="444.60" x2="108.30" y2="444.60" stroke="#4f2363" stroke-width="1"/>
<circle cx="105.30" cy="440.20" r="2.6" fill="#4f2363"/>
<line x1="137.30" y1="437.70" x2="137.30" y2="445.70" stroke="#4f2363" stroke-width="1"/>
<line x1="134.30" y1="437.70" x2="140.30" y2="437.70" stroke="#4f2363" stroke-width="1"/>
<line x1="134.30" y1="445.70" x2="140.30" y2="445.70" stroke="#4f2363" stroke-width="1"/>
<circle cx="137.30" cy="441.70" r="2.6" fill="#4f2363"/>
<line x1="169.40" y1="424.20" x2="169.40" y2="438.20" stroke="#4f2363" stroke-width="1"/>
<line x1="166.40" y1="424.20" x2="172.40" y2="424.20" stroke="#4f2363" stroke-width="1"/>
<line x1="166.40" y1="438.20" x2="172.40" y2="438.20" stroke="#4f2363" stroke-width="1"/>
<circle cx="169.40" cy="431.20" r="2.6" fill="#4f2363"/>
<line x1="201.40" y1="427.70" x2="201.40" y2="457.70" stroke="#4f2363" stroke-width="1"/>
<line x1="198.40" y1="427.70" x2="204.40" y2="427.70" stroke="#4f2363" stroke-width="1"/>
<line x1="198.40" y1="457.70" x2="204.40" y2="457.70" stroke="#4f2363" stroke-width="1"/>
<circle cx="201.40" cy="442.70" r="2.6" fill="#4f2363"/>
<line x1="233.40" y1="434.00" x2="233.40" y2="448.00" stroke="#4f2363" stroke-width="1"/>
<line x1="230.40" y1="434.00" x2="236.40" y2="434.00" stroke="#4f2363" stroke-width="1"/>
<line x1="230.40" y1="448.00" x2="236.40" y2="448.00" stroke="#4f2363" stroke-width="1"/>
<circle cx="233.40" cy="441.00" r="2.6" fill="#4f2363"/>
<polyline points="73.20,437.00 105.30,443.40 137.30,444.60 169.40,436.50 201.40,435.00 233.40,435.60" fill="none" stroke="#4b5366" stroke-width="1.3"/>
<line x1="73.20" y1="432.00" x2="73.20" y2="442.00" stroke="#4b5366" stroke-width="1"/>
<line x1="70.20" y1="432.00" x2="76.20" y2="432.00" stroke="#4b5366" stroke-width="1"/>
<line x1="70.20" y1="442.00" x2="76.20" y2="442.00" stroke="#4b5366" stroke-width="1"/>
<circle cx="73.20" cy="437.00" r="2.6" fill="#4b5366"/>
<line x1="105.30" y1="436.40" x2="105.30" y2="450.40" stroke="#4b5366" stroke-width="1"/>
<line x1="102.30" y1="436.40" x2="108.30" y2="436.40" stroke="#4b5366" stroke-width="1"/>
<line x1="102.30" y1="450.40" x2="108.30" y2="450.40" stroke="#4b5366" stroke-width="1"/>
<circle cx="105.30" cy="443.40" r="2.6" fill="#4b5366"/>
<line x1="137.30" y1="438.20" x2="137.30" y2="451.00" stroke="#4b5366" stroke-width="1"/>
<line x1="134.30" y1="438.20" x2="140.30" y2="438.20" stroke="#4b5366" stroke-width="1"/>
<line x1="134.30" y1="451.00" x2="140.30" y2="451.00" stroke="#4b5366" stroke-width="1"/>
<circle cx="137.30" cy="444.60" r="2.6" fill="#4b5366"/>
<line x1="169.40" y1="434.00" x2="169.40" y2="439.00" stroke="#4b5366" stroke-width="1"/>
<line x1="166.40" y1="434.00" x2="172.40" y2="434.00" stroke="#4b5366" stroke-width="1"/>
<line x1="166.40" y1="439.00" x2="172.40" y2="439.00" stroke="#4b5366" stroke-width="1"/>
<circle cx="169.40" cy="436.50" r="2.6" fill="#4b5366"/>
<line x1="201.40" y1="417.40" x2="201.40" y2="452.60" stroke="#4b5366" stroke-width="1"/>
<line x1="198.40" y1="417.40" x2="204.40" y2="417.40" stroke="#4b5366" stroke-width="1"/>
<line x1="198.40" y1="452.60" x2="204.40" y2="452.60" stroke="#4b5366" stroke-width="1"/>
<circle cx="201.40" cy="435.00" r="2.6" fill="#4b5366"/>
<line x1="233.40" y1="433.60" x2="233.40" y2="437.60" stroke="#4b5366" stroke-width="1"/>
<line x1="230.40" y1="433.60" x2="236.40" y2="433.60" stroke="#4b5366" stroke-width="1"/>
<line x1="230.40" y1="437.60" x2="236.40" y2="437.60" stroke="#4b5366" stroke-width="1"/>
<circle cx="233.40" cy="435.60" r="2.6" fill="#4b5366"/>
<circle cx="167.80" cy="418.90" r="1.0" fill="#6a4a8a"/>
<circle cx="170.80" cy="418.90" r="1.0" fill="#6a4a8a"/>
<circle cx="167.80" cy="451.30" r="1.0" fill="#6a6a88"/>
<circle cx="170.80" cy="451.30" r="1.0" fill="#6a6a88"/>
<circle cx="201.70" cy="412.70" r="1.0" fill="#5a5e70"/>
<circle cx="201.70" cy="463.80" r="1.0" fill="#4f2363"/>
<circle cx="228.95" cy="412.70" r="1.0" fill="#5a5e70"/>
<circle cx="232.05" cy="412.70" r="1.0" fill="#5a5e70"/>
<circle cx="235.15" cy="412.70" r="1.0" fill="#5a5e70"/>
<circle cx="238.25" cy="412.70" r="1.0" fill="#5a5e70"/>
<circle cx="228.95" cy="454.90" r="1.0" fill="#5a3a78"/>
<circle cx="232.05" cy="454.90" r="1.0" fill="#5a3a78"/>
<circle cx="235.15" cy="454.90" r="1.0" fill="#5a3a78"/>
<circle cx="238.25" cy="454.90" r="1.0" fill="#5a3a78"/>
<line x1="256.70" y1="434.90" x2="270.50" y2="434.90" stroke="#4b5366" stroke-width="1.2"/>
<circle cx="263.60" cy="434.90" r="2.9" fill="#4b5366"/>
<text x="274.00" y="438.00" font-size="8.4" text-anchor="start" fill="#000" stroke="#000" stroke-width="0.05" >TDZ 6</text>
<line x1="256.70" y1="447.27" x2="270.50" y2="447.27" stroke="#4f2363" stroke-width="1.2"/>
<circle cx="263.60" cy="447.27" r="2.9" fill="#4f2363"/>
<text x="274.00" y="450.37" font-size="8.4" text-anchor="start" fill="#000" stroke="#000" stroke-width="0.05" >TDZ 2</text>
<line x1="256.70" y1="459.64" x2="270.50" y2="459.64" stroke="#2c4b80" stroke-width="1.2"/>
<circle cx="263.60" cy="459.64" r="2.9" fill="#2c4b80"/>
<text x="274.00" y="462.74" font-size="8.4" text-anchor="start" fill="#000" stroke="#000" stroke-width="0.05" >TDZ</text>
<line x1="256.70" y1="472.01" x2="270.50" y2="472.01" stroke="#a60f33" stroke-width="1.2"/>
<circle cx="263.60" cy="472.01" r="2.9" fill="#a60f33"/>
<text x="274.00" y="475.11" font-size="8.4" text-anchor="start" fill="#000" stroke="#000" stroke-width="0.05" >DMSO</text>
<text x="315.80" y="392.90" font-size="13.2" text-anchor="start" fill="#000" stroke="#000" stroke-width="0.05" font-weight="bold" >E</text>
<line x1="364.70" y1="397.60" x2="364.70" y2="534.10" stroke="#000" stroke-width="1.4"/>
<line x1="361.40" y1="533.40" x2="364.70" y2="533.40" stroke="#000" stroke-width="1"/>
<text x="358.40" y="536.30" font-size="8.8" text-anchor="end" fill="#000" stroke="#000" stroke-width="0.05" >50</text>
<line x1="361.40" y1="500.08" x2="364.70" y2="500.08" stroke="#000" stroke-width="1"/>
<text x="358.40" y="502.98" font-size="8.8" text-anchor="end" fill="#000" stroke="#000" stroke-width="0.05" >100</text>
<line x1="361.40" y1="466.76" x2="364.70" y2="466.76" stroke="#000" stroke-width="1"/>
<text x="358.40" y="469.66" font-size="8.8" text-anchor="end" fill="#000" stroke="#000" stroke-width="0.05" >150</text>
<line x1="361.40" y1="433.44" x2="364.70" y2="433.44" stroke="#000" stroke-width="1"/>
<text x="358.40" y="436.34" font-size="8.8" text-anchor="end" fill="#000" stroke="#000" stroke-width="0.05" >200</text>
<line x1="361.40" y1="400.12" x2="364.70" y2="400.12" stroke="#000" stroke-width="1"/>
<text x="358.40" y="403.02" font-size="8.8" text-anchor="end" fill="#000" stroke="#000" stroke-width="0.05" >250</text>
<text x="336.7" y="465.5" font-size="10.2" text-anchor="middle" transform="rotate(-90 336.7 465.5)" textLength="58.8" lengthAdjust="spacingAndGlyphs">Tumor area (mm<tspan font-size="6" dy="-3.6">2</tspan><tspan dy="3.6">)</tspan></text>
<line x1="361.40" y1="533.40" x2="512.30" y2="533.40" stroke="#000" stroke-width="1.5"/>
<line x1="389.20" y1="533.40" x2="389.20" y2="537.00" stroke="#000" stroke-width="1"/>
<text x="389.20" y="548.80" font-size="8.7" text-anchor="middle" fill="#000" stroke="#000" stroke-width="0.05" >DMSO</text>
<line x1="438.50" y1="533.40" x2="438.50" y2="537.00" stroke="#000" stroke-width="1"/>
<text x="438.50" y="548.80" font-size="8.7" text-anchor="middle" fill="#000" stroke="#000" stroke-width="0.05" >TDZ</text>
<line x1="487.40" y1="533.40" x2="487.40" y2="537.00" stroke="#000" stroke-width="1"/>
<text x="487.40" y="548.80" font-size="8.7" text-anchor="middle" fill="#000" stroke="#000" stroke-width="0.05" >TDZ 6</text>
<circle cx="389.2" cy="418.6" r="2.55" fill="#a60f33"/>
<circle cx="389.2" cy="445.7" r="2.55" fill="#a60f33"/>
<circle cx="384.6" cy="451.5" r="2.55" fill="#a60f33"/>
<circle cx="393.8" cy="454.6" r="2.55" fill="#a60f33"/>
<circle cx="389.2" cy="466.3" r="2.55" fill="#a60f33"/>
<line x1="372.90" y1="447.20" x2="405.50" y2="447.20" stroke="#a60f33" stroke-width="1.5"/>
<line x1="389.20" y1="438.90" x2="389.20" y2="455.20" stroke="#a60f33" stroke-width="1.2"/>
<line x1="381.20" y1="438.90" x2="397.20" y2="438.90" stroke="#a60f33" stroke-width="1.2"/>
<line x1="381.20" y1="455.20" x2="397.20" y2="455.20" stroke="#a60f33" stroke-width="1.2"/>
<circle cx="438.5" cy="454.6" r="2.55" fill="#2c4b80"/>
<circle cx="438.5" cy="485.1" r="2.55" fill="#2c4b80"/>
<circle cx="429.5" cy="495.8" r="2.55" fill="#2c4b80"/>
<circle cx="438.5" cy="498.6" r="2.55" fill="#2c4b80"/>
<circle cx="447.0" cy="496.5" r="2.55" fill="#2c4b80"/>
<circle cx="438.5" cy="508.8" r="2.55" fill="#2c4b80"/>
<circle cx="438.5" cy="518.6" r="2.55" fill="#2c4b80"/>
<line x1="422.50" y1="494.00" x2="454.80" y2="494.00" stroke="#2c4b80" stroke-width="1.5"/>
<line x1="438.50" y1="486.30" x2="438.50" y2="501.70" stroke="#2c4b80" stroke-width="1.2"/>
<line x1="430.50" y1="486.30" x2="446.50" y2="486.30" stroke="#2c4b80" stroke-width="1.2"/>
<line x1="430.50" y1="501.70" x2="446.50" y2="501.70" stroke="#2c4b80" stroke-width="1.2"/>
<circle cx="487.4" cy="460.5" r="2.55" fill="#4b5366"/>
<circle cx="487.4" cy="466.9" r="2.55" fill="#4b5366"/>
<circle cx="487.4" cy="482.6" r="2.55" fill="#4b5366"/>
<circle cx="487.4" cy="495.8" r="2.55" fill="#4b5366"/>
<circle cx="487.4" cy="510.6" r="2.55" fill="#4b5366"/>
<line x1="470.80" y1="483.20" x2="503.40" y2="483.20" stroke="#4b5366" stroke-width="1.5"/>
<line x1="487.40" y1="474.00" x2="487.40" y2="492.50" stroke="#4b5366" stroke-width="1.2"/>
<line x1="479.40" y1="474.00" x2="495.40" y2="474.00" stroke="#4b5366" stroke-width="1.2"/>
<line x1="479.40" y1="492.50" x2="495.40" y2="492.50" stroke="#4b5366" stroke-width="1.2"/>
<circle cx="437.00" cy="402.30" r="0.95" fill="#111"/>
<circle cx="440.00" cy="402.30" r="0.95" fill="#111"/>
<circle cx="487.40" cy="402.30" r="0.95" fill="#111"/>
</svg>
</body></html>
